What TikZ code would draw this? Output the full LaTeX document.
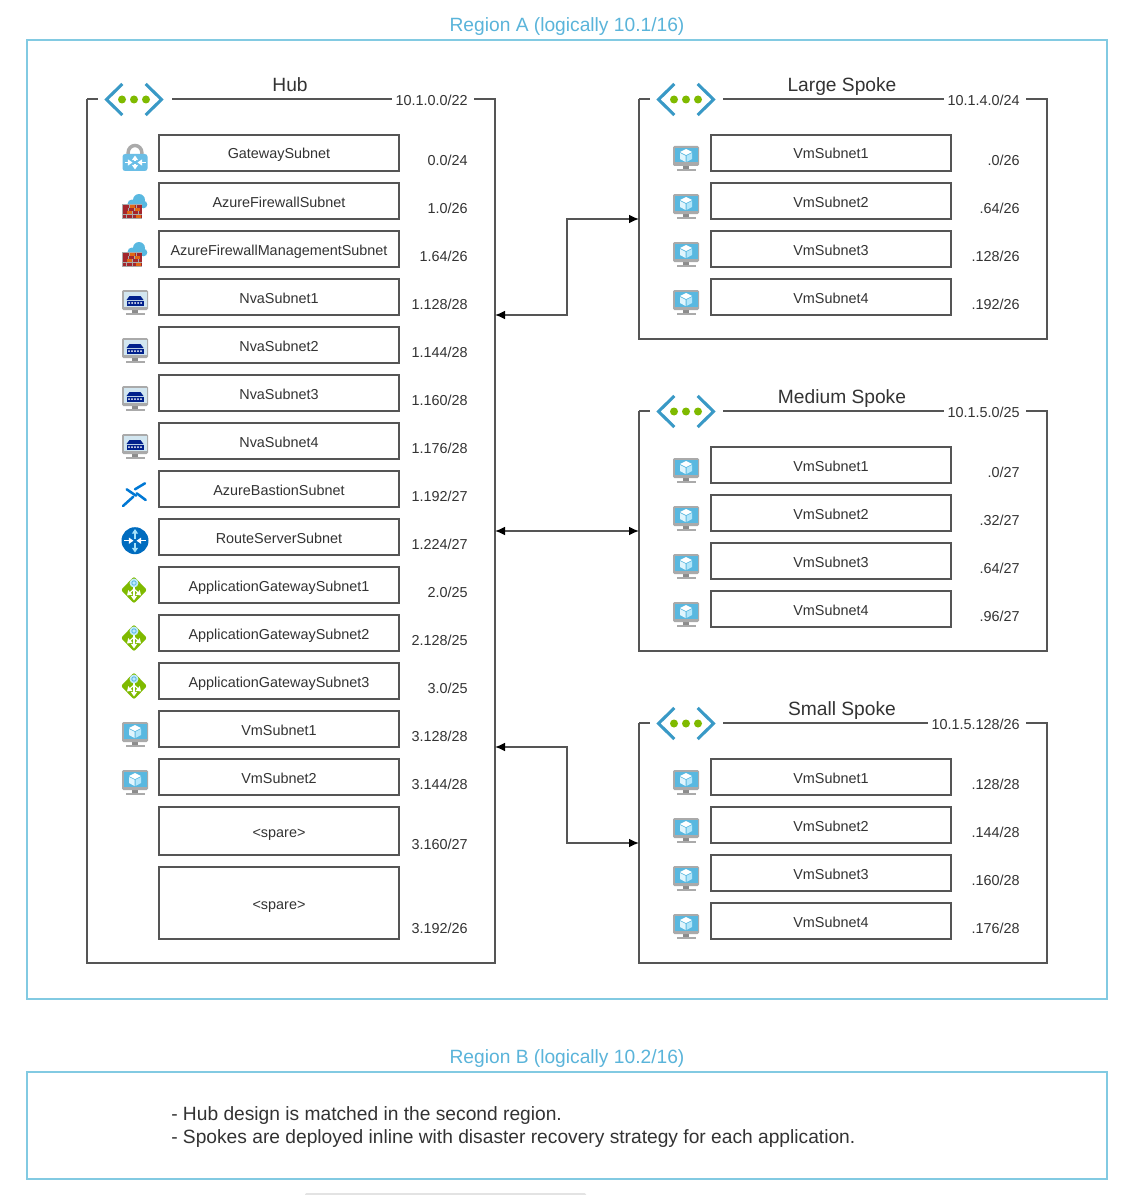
\documentclass[tikz,border=0pt]{standalone}
\usepackage{fontspec}
\setmainfont{Liberation Sans}
\usetikzlibrary{arrows.meta,calc,positioning}
\definecolor{RegionBlue}{RGB}{130,202,226}
\definecolor{RegionText}{RGB}{90,180,218}
\definecolor{FrameGray}{RGB}{85,85,85}
\definecolor{InkGray}{RGB}{51,51,51}
\definecolor{VnetBlue}{RGB}{57,153,198}
\definecolor{AzureGreen}{RGB}{127,186,0}
\definecolor{MonGray}{RGB}{170,170,170}
\definecolor{StandGray}{RGB}{140,140,140}
\definecolor{ScreenBlue}{RGB}{89,184,224}
\definecolor{ScreenPale}{RGB}{210,230,240}
\definecolor{LockBlue}{RGB}{106,190,230}
\definecolor{NvaNavy}{RGB}{0,32,140}
\definecolor{BrickRed}{RGB}{164,38,44}
\definecolor{BrickOrange}{RGB}{225,105,20}
\definecolor{AzureBlue}{RGB}{0,120,212}
\tikzset{
  regionLine/.style={draw=RegionBlue,line width=1pt},
  regionTitle/.style={text=RegionText,font=\fontsize{14.4}{17}\selectfont},
  frameLine/.style={draw=FrameGray,line width=1.1pt},
  frameNode/.style={minimum width=306pt,inner sep=0pt,outer sep=0pt},
  subnetBox/.style={draw=FrameGray,line width=1.1pt,minimum width=180pt,minimum height=27pt,inner sep=0pt,text height=10pt,text depth=1pt,text=InkGray,font=\fontsize{10.8}{13}\selectfont},
  cidrLabel/.style={anchor=east,inner sep=0pt,text=InkGray,font=\fontsize{10.8}{13}\selectfont},
  titleLabel/.style={text=InkGray,inner sep=0pt,text height=11pt,text depth=3pt,font=\fontsize{14.4}{17}\selectfont},
  peerLink/.style={{Latex[black,length=7.5pt,width=6.5pt]}-{Latex[black,length=7.5pt,width=6.5pt]},draw=FrameGray,line width=1pt},
  icoArrow/.style={-{Triangle[length=3.4pt,width=4.4pt]},line width=.9pt},
  monitorBase/.pic={
    \fill[StandGray] (-3,13) rectangle (3,16);
    \fill[MonGray] (-9.5,16) rectangle (9.5,18);
    \fill[MonGray,rounded corners=1pt] (-13,-7) rectangle (13,13);
  },
  vnetIcon/.pic={
    \draw[VnetBlue,line width=2.3pt] (-11.7,-15.5)--(-27.5,0)--(-11.7,15.5);
    \draw[VnetBlue,line width=2.3pt] (11.7,-15.5)--(27.5,0)--(11.7,15.5);
    \foreach \x in {-12,0,12}{\fill[AzureGreen] (\x,0) circle[radius=4];}
  },
  vmIcon/.pic={
    \pic {monitorBase};
    \fill[ScreenBlue] (-11.5,-5) rectangle (11.5,9.5);
    \fill[white] (0,-4)--(6,-1)--(0,2)--(-6,-1)--cycle;
    \fill[cyan!12] (-6,0)--(-.5,2.8)--(-.5,9)--(-6,6)--cycle;
    \fill[cyan!30] (6,0)--(.5,2.8)--(.5,9)--(6,6)--cycle;
  },
  nvaIcon/.pic={
    \pic {monitorBase};
    \fill[ScreenPale] (-11.5,-5) rectangle (11.5,9.5);
    \fill[NvaNavy] (-5.5,-1)--(5.5,-1)--(8.5,3)--(-8.5,3)--cycle;
    \fill[NvaNavy] (-8.5,3.7) rectangle (8.5,9);
    \foreach \x in {-6,-3,0,3,6}{\fill[white] (\x,6) circle[radius=1];}
  },
  lockIcon/.pic={
    \draw[MonGray,line width=2.6pt] (-6.8,3)--(-6.8,-.7) arc[start angle=180,end angle=360,radius=6.8]--(6.8,3);
    \fill[LockBlue,rounded corners=2pt] (-12.5,1) rectangle (12.5,18);
    \draw[white,icoArrow] (0,7.5)--(0,2.5);
    \draw[white,icoArrow] (0,11.5)--(0,16.5);
    \draw[white,icoArrow] (-10.5,9.5)--(-2.5,9.5);
    \draw[white,icoArrow] (10.5,9.5)--(2.5,9.5);
  },
  wallIcon/.pic={
    \fill[ScreenBlue] (4,-1) circle[radius=6];
    \fill[ScreenBlue] (-3,3) circle[radius=4.5];
    \fill[ScreenBlue] (8.5,3.5) circle[radius=3.8];
    \fill[ScreenBlue] (-3,3) rectangle (8,7.3);
    \fill[MonGray] (-13,3) rectangle (7,17.5);
    \foreach \y in {3.6,7,10.4,13.8}{
      \fill[BrickRed] (-12.5,\y) rectangle (6.5,\y+2.9);
    }
    \foreach \x/\y in {-5/3.6,0/7,-8/10.4,1/13.8}{
      \fill[BrickOrange] (\x,\y) rectangle (\x+5,\y+2.9);
    }
    \foreach \x/\y in {-6/3.6,1/3.6,-7/7,-1/7,-3/10.4,3/10.4,-9/13.8,-3/13.8}{
      \fill[MonGray] (\x,\y) rectangle (\x+.6,\y+2.9);
    }
  },
  bastionIcon/.pic={
    \draw[AzureBlue,line width=1.9pt,line cap=round] (-12,17)--(-1.7,7.7);
    \draw[AzureBlue,line width=1.9pt,line cap=round] (-8.3,.3)--(1,6.7);
    \draw[AzureBlue,line width=1.9pt,line cap=round] (0,.3)--(10,-5.7);
    \draw[AzureBlue,line width=1.9pt,line cap=round] (1.7,4.3)--(10.7,11);
  },
  routeIcon/.pic={
    \fill[AzureBlue!90!black] (0,3.7) circle[radius=13.5];
    \draw[cyan!35!white,icoArrow] (0,1.5)--(0,-8);
    \draw[cyan!35!white,icoArrow] (0,6)--(0,15.5);
    \draw[white,icoArrow] (-11,3.7)--(-1.5,3.7);
    \draw[white,icoArrow] (11,3.7)--(1.5,3.7);
  },
  gatewayIcon/.pic={
    \fill[AzureGreen,rounded corners=1.5pt] (-1,-8.5)--(12,5)--(-1,18.5)--(-14,5)--cycle;
    \draw[white,icoArrow] (-1,1)--(-1,15.5);
    \draw[white,icoArrow] (-1,4)--(-8,10.5);
    \draw[white,icoArrow] (-1,4)--(6,10.5);
    \fill[cyan!25!white] (-1,-2) circle[radius=4.5];
    \draw[ScreenBlue,line width=.6pt] (-1,-2) circle[radius=2.2];
  },
}
\begin{document}
\begin{tikzpicture}[x=0.75pt,y=-0.75pt,>=Latex]
  \useasboundingbox (0,0) rectangle (1140,1195);
  \fill[white] (0,0) rectangle (1140,1195);
  % regions
  \node[regionTitle] (regionA) at (567,26.5) {Region A (logically 10.1/16)};
  \draw[regionLine] (27,40) rectangle (1107,999);
  \node[regionTitle] (regionB) at (567,1058.5) {Region B (logically 10.2/16)};
  \draw[regionLine] (27,1072) rectangle (1107,1179);
  \node[anchor=west,align=left,inner sep=0pt,text=InkGray,font=\fontsize{14.4}{17.25}\selectfont] (regionNote) at (171,1127.5) {- Hub design is matched in the second region.\\- Spokes are deployed inline with disaster recovery strategy for each application.};
  \fill[black!11,rounded corners=1pt] (305,1193) rectangle (586,1198);

  % hub
  \node[frameNode,minimum height=648pt] (hub) at (291,531) {};
  \draw[frameLine] (87,99)--(98,99);
  \draw[frameLine] (172,99)--(392,99);
  \draw[frameLine] (474,99)--(495,99)--(495,963)--(87,963)--(87,99);
  \pic at (134,99.5) {vnetIcon};
  \node[titleLabel] (hubTitle) at (290,86) {Hub};
  \node[cidrLabel] (hubNet) at (468,100) {10.1.0.0/22};
  \foreach \i/\ico/\lbl/\cidr in {
    0/lockIcon/GatewaySubnet/{0.0/24},
    1/wallIcon/AzureFirewallSubnet/{1.0/26},
    2/wallIcon/AzureFirewallManagementSubnet/{1.64/26},
    3/nvaIcon/NvaSubnet1/{1.128/28},
    4/nvaIcon/NvaSubnet2/{1.144/28},
    5/nvaIcon/NvaSubnet3/{1.160/28},
    6/nvaIcon/NvaSubnet4/{1.176/28},
    7/bastionIcon/AzureBastionSubnet/{1.192/27},
    8/routeIcon/RouteServerSubnet/{1.224/27},
    9/gatewayIcon/ApplicationGatewaySubnet1/{2.0/25},
    10/gatewayIcon/ApplicationGatewaySubnet2/{2.128/25},
    11/gatewayIcon/ApplicationGatewaySubnet3/{3.0/25},
    12/vmIcon/VmSubnet1/{3.128/28},
    13/vmIcon/VmSubnet2/{3.144/28}}{
    \node[subnetBox] (hubRow\i) at (279,{153+48*\i}) {\lbl};
    \pic at (135,{153+48*\i}) {\ico};
    \node[cidrLabel] (hubCidr\i) at (468,{160+48*\i}) {\cidr};
  }
  \node[subnetBox,minimum height=36pt] (spareA) at (279,831) {<spare>};
  \node[cidrLabel] (spareCidrA) at (468,844) {3.160/27};
  \node[subnetBox,minimum height=54pt] (spareB) at (279,903) {<spare>};
  \node[cidrLabel] (spareCidrB) at (468,928) {3.192/26};

  % spokes
  \foreach \nm/\topy/\ttl/\net/\gapx in {
    large/99/Large Spoke/{10.1.4.0/24}/944,
    medium/411/Medium Spoke/{10.1.5.0/25}/944,
    small/723/Small Spoke/{10.1.5.128/26}/928}{
    \node[frameNode,minimum height=180pt] (\nm) at (843,\topy+120) {};
    \draw[frameLine] (639,\topy)--(650,\topy);
    \draw[frameLine] (723,\topy)--(\gapx,\topy);
    \draw[frameLine] (1026,\topy)--(1047,\topy)--(1047,\topy+240)--(639,\topy+240)--(639,\topy);
    \pic at (686,\topy+.5) {vnetIcon};
    \node[titleLabel] (\nm Title) at (842,\topy-13) {\ttl};
    \node[cidrLabel] (\nm Net) at (1020,\topy+1) {\net};
  }
  \foreach \nm/\topy/\ca/\cb/\cc/\cd in {
    large/99/{.0/26}/{.64/26}/{.128/26}/{.192/26},
    medium/411/{.0/27}/{.32/27}/{.64/27}/{.96/27},
    small/723/{.128/28}/{.144/28}/{.160/28}/{.176/28}}{
    \foreach \i/\cidr in {0/\ca,1/\cb,2/\cc,3/\cd}{
      \node[subnetBox] (\nm Vm\i) at (831,{\topy+54+48*\i}) {VmSubnet\the\numexpr\i+1\relax};
      \pic at (686,{\topy+54+48*\i}) {vmIcon};
      \node[cidrLabel] (\nm Cidr\i) at (1020,{\topy+61+48*\i}) {\cidr};
    }
  }

  % peerings
  \draw[peerLink] ($(hub.east)+(0,-216)$)--++(72,0)|-(large.west);
  \draw[peerLink] (hub.east)--(medium.west);
  \draw[peerLink] ($(hub.east)+(0,216)$)--++(72,0)|-(small.west);
\end{tikzpicture}
\end{document}
